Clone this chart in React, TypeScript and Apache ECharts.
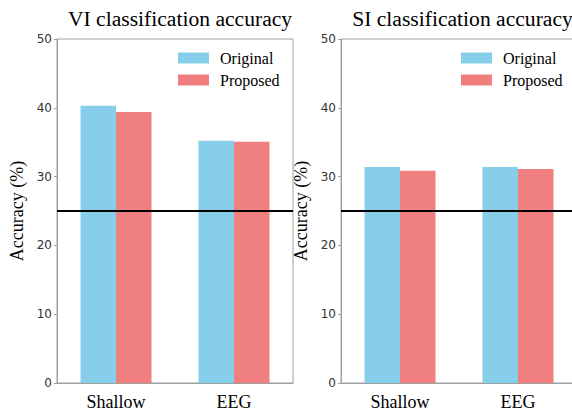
import React, { useEffect, useRef } from "react";
import * as echarts from "echarts";

const categories = ["Shallow", "EEG"];
const viOriginal = [40.3, 35.2];
const viProposed = [39.4, 35.05];
const siOriginal = [31.4, 31.4];
const siProposed = [30.85, 31.1];
const chanceLevel = 25;
const yTicks = [0, 10, 20, 30, 40, 50];
const titles = ["VI classification accuracy", "SI classification accuracy"];

const BLUE = "#87CEEB";
const RED = "#F08080";
const AXIS = "#a0a0a0";
const SERIF = "Liberation Serif";
const SANS = "DejaVu Sans";

export default function App() {
  const ref = useRef<HTMLDivElement>(null);
  useEffect(() => {
    if (!ref.current) return;
    const chart = echarts.init(ref.current, undefined, { renderer: "svg" });
    const grids = [
      { left: 57, top: 39, width: 236, height: 344 },
      { left: 341, top: 39, width: 236, height: 344 },
    ];
    const centers = [175, 457.5];
    const seriesData = [
      [viOriginal, viProposed],
      [siOriginal, siProposed],
    ];
    const series: any[] = [];
    seriesData.forEach((pair, i) => {
      pair.forEach((vals, j) => {
        const s: any = {
          type: "bar",
          name: j === 0 ? "Original" : "Proposed",
          xAxisIndex: i,
          yAxisIndex: i,
          data: vals,
          barWidth: 35.5,
          barGap: "0%",
          itemStyle: { color: j === 0 ? BLUE : RED },
        };
        if (j === 1) {
          s.markLine = {
            silent: true,
            symbol: "none",
            label: { show: false },
            lineStyle: { color: "#000", width: 2, type: "solid" },
            data: [{ yAxis: chanceLevel }],
          };
        }
        series.push(s);
      });
    });
    chart.setOption({
      animation: false,
      title: titles.map((t, i) => ({
        text: t,
        left: centers[i],
        textAlign: "center",
        top: 3,
        textStyle: { fontFamily: SERIF, fontSize: 21.6, fontWeight: "normal", color: "#000" },
      })),
      legend: [0, 1].map((i) => ({
        data: ["Original", "Proposed"],
        orient: "vertical",
        left: i === 0 ? 178 : 461,
        top: 50,
        padding: 0,
        itemWidth: 31,
        itemHeight: 11,
        itemGap: 6,
        icon: "rect",
        selectedMode: false,
        textStyle: { fontFamily: SERIF, fontSize: 16, color: "#000", padding: [0, 0, 0, 6] },
      })),
      grid: grids.map((g) => ({ ...g, show: true, borderColor: AXIS, borderWidth: 1, backgroundColor: "transparent" })),
      xAxis: [0, 1].map((i) => ({
        type: "category",
        gridIndex: i,
        data: categories,
        axisLine: { lineStyle: { color: AXIS } },
        axisTick: { show: false },
        axisLabel: { fontFamily: SERIF, fontSize: 18, color: "#000", margin: 10 },
      })),
      yAxis: [0, 1].map((i) => ({
        type: "value",
        gridIndex: i,
        min: yTicks[0],
        max: yTicks[yTicks.length - 1],
        interval: 10,
        name: "Accuracy (%)",
        nameLocation: "middle",
        nameGap: 31,
        nameTextStyle: { fontFamily: SERIF, fontSize: 18, color: "#000" },
        splitLine: { show: false },
        axisLine: { show: true, lineStyle: { color: AXIS } },
        axisTick: { show: true, length: 3, lineStyle: { color: AXIS } },
        axisLabel: { fontFamily: SANS, fontSize: 12, color: "#333", margin: 5 },
      })),
      series,
    });
    return () => chart.dispose();
  }, []);
  return (
    <div style={{ width: 572, height: 413, position: "absolute", left: 0, top: 0, overflow: "hidden" }}>
      <div ref={ref} style={{ width: 580, height: 413 }} />
    </div>
  );
}
